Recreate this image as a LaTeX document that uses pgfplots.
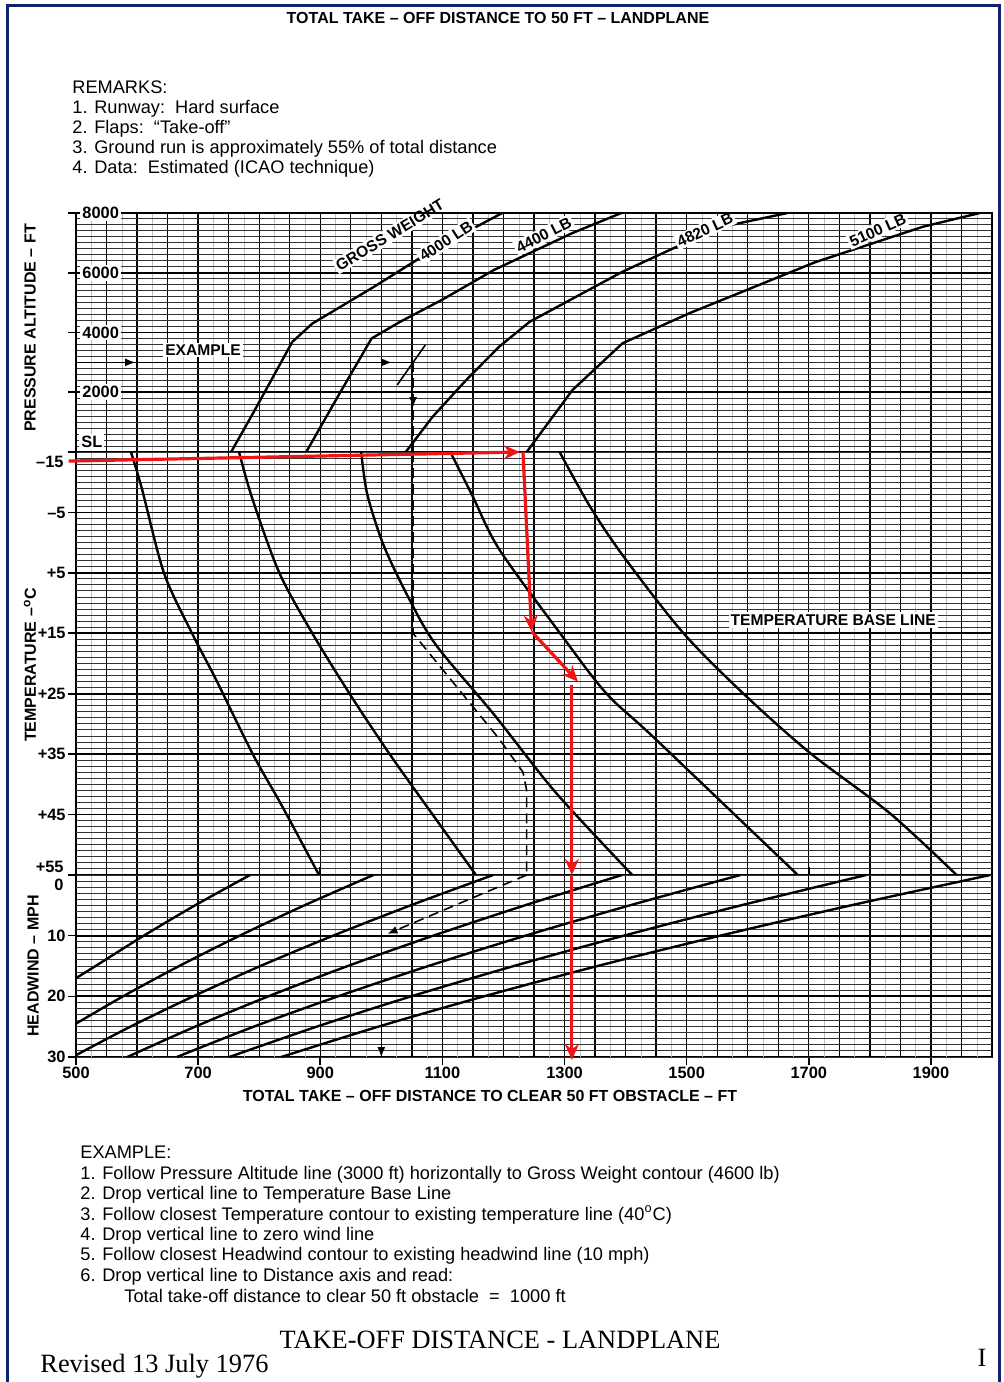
\documentclass[border=0pt]{standalone}
\usepackage{pgfplots}
\pgfplotsset{compat=1.18}
\usepackage{fontspec}
\setmainfont{Liberation Sans}
\newfontfamily\tw{Liberation Serif}
\usetikzlibrary{arrows.meta}
\definecolor{frameblue}{RGB}{16,36,110}
\definecolor{annred}{RGB}{240,20,20}

\newcommand{\vgrid}[2]{%
  \pgfplotsinvokeforeach{525,575,...,1975}{\draw[black!25, line width=0.2pt] (axis cs:##1,#1) -- (axis cs:##1,#2);}%
  \pgfplotsinvokeforeach{550,600,...,1950}{\draw[black, line width=0.65pt] (axis cs:##1,#1) -- (axis cs:##1,#2);}%
}
\newcommand{\hgrid}[2]{%
  \pgfplotsinvokeforeach{#1}{\draw[black!80, line width=0.5pt] (axis cs:500,##1) -- (axis cs:2000,##1);}%
  \pgfplotsinvokeforeach{#2}{\draw[black, line width=0.9pt] (axis cs:500,##1) -- (axis cs:2000,##1);}%
}
\tikzset{
  curve/.style={black, line width=1.2pt},
  lab/.style={font=\bfseries\fontsize{7.8}{9}\selectfont, fill=white, inner sep=1pt},
  ex/.style={black, line width=0.8pt},
  redarr/.style={annred, line width=1.6pt, -{Stealth[length=8pt,width=7pt]}},
}
\pgfplotsset{
  chart/.style={
    scale only axis, width=458pt, xmin=500, xmax=2000,
    axis line style={line width=1.1pt},
    xtick=\empty, ytick pos=left,
    tick align=outside, major tick length=4pt,
    ytick style={black, line width=0.8pt},
    xtick style={black, line width=0.8pt},
    ticklabel style={font=\bfseries\fontsize{8.2}{9}\selectfont, inner sep=1pt},
    /pgf/number format/assume math mode=true,
    clip=false,
  },
}

\begin{document}
\begin{tikzpicture}
\useasboundingbox (0,0) rectangle (501.5pt,-691pt);

% ---------- TOP: pressure altitude ----------
\begin{axis}[chart, axis on top, at={(38pt,-106.5pt)}, anchor=north west, height=119.5pt,
  ymin=0, ymax=8000, ytick={2000,4000,6000,8000}, yticklabels={2000,4000,6000,8000},
  yticklabel style={anchor=west, xshift=6pt, fill=white}]
  \vgrid{0}{8000}
  \hgrid{0,200,...,8000}{2000,4000,6000}
  % gross weight contours
  \addplot[curve] coordinates {(754,0) (790,1300) (825,2600) (854,3680) (887,4300) (920,4700) (988,5530) (1084,6760) (1198,8000)};
  \addplot[curve] coordinates {(877,0) (930,1900) (984,3800) (1030,4350) (1100,5100) (1185,6100) (1313,7330) (1393,8000)};
  \addplot[curve] coordinates {(1040,0) (1084,1180) (1139,2410) (1193,3525) (1243,4360) (1395,6035) (1484,6873) (1559,7541) (1665,8000)};
  \addplot[curve] coordinates {(1238,0) (1313,2075) (1395,3640) (1505,4650) (1710,6350) (1887,7541) (1980,8000)};
  % example
  \addplot[ex] coordinates {(500,3000) (1052,3000)};
  \addplot[ex, -{Latex[length=5pt,width=4pt]}] coordinates {(570,3000) (597,3000)};
  \addplot[ex, -{Latex[length=5pt,width=4pt]}] coordinates {(990,3000) (1017,3000)};
  \addplot[ex] coordinates {(1026,2243) (1072,3582)};
  \addplot[ex, dashed, dash pattern=on 5pt off 3pt] coordinates {(1052,3000) (1052,0)};
  \addplot[ex, -{Latex[length=5pt,width=4pt]}] coordinates {(1052,1900) (1052,1500)};
  % labels
  \node[lab, rotate=31] at (axis cs:1014,7260) {GROSS WEIGHT};
  \node[lab, rotate=33] at (axis cs:1106,7060) {4000 LB};
  \node[lab, rotate=27] at (axis cs:1266,7264) {4400 LB};
  \node[lab, rotate=25] at (axis cs:1530,7431) {4820 LB};
  \node[lab, rotate=24] at (axis cs:1813,7431) {5100 LB};
  \node[lab] at (axis cs:708,3414) {EXAMPLE};
  \node[anchor=south west, font=\bfseries\fontsize{8.2}{9}\selectfont, inner sep=1pt, fill=white] at (axis cs:505,60) {SL};
\end{axis}

% ---------- MIDDLE: temperature ----------
\begin{axis}[chart, at={(38pt,-226pt)}, anchor=north west, height=211.5pt,
  ymin=-15, ymax=55, y dir=reverse,
  ytick={-15,-5,5,15,25,35,45,55}, yticklabels={,–5,+5,+15,+25,+35,+45,}]
  \vgrid{-15}{55}
  \hgrid{-15,-14,...,55}{-5,5,15,25,35,45}
  \addplot[curve, smooth, tension=0.5] coordinates {(590,-15) (608,-8.9) (644,5) (690,15) (729,22.6) (789,34.9) (838,43.7) (898,55)};
  \addplot[curve, smooth, tension=0.5] coordinates {(767,-15) (789,-7.2) (833,5) (887,15) (948,25) (1013,34.9) (1084,45) (1155,55)};
  \addplot[curve, smooth, tension=0.5] coordinates {(967,-15) (977,-8) (1004,0.5) (1046,9.4) (1090,17) (1185,28.5) (1286,41.4) (1411,55)};
  \addplot[curve, smooth, tension=0.5] coordinates {(1113,-15) (1149,-7.8) (1193,1.1) (1292,14.9) (1368,24.9) (1450,32.6) (1682,55)};
  \addplot[curve, smooth, tension=0.5] coordinates {(1292,-15) (1341,-6.1) (1396,2.2) (1494,14.9) (1592,24.9) (1702,34.8) (1833,44.8) (1942,55)};
  % example (dashed)
  \addplot[ex, dashed, dash pattern=on 5pt off 3pt] coordinates {(1052,-15) (1052,15) (1060,16) (1194,32.6) (1232,38) (1238,41) (1238,55)};
  \node[lab] at (axis cs:1740,12.8) {TEMPERATURE BASE LINE};
  \node[anchor=east, font=\bfseries\fontsize{8.2}{9}\selectfont, inner sep=1pt] at (axis cs:500,-15) [xshift=-5pt, yshift=-5pt] {–15};
  \node[anchor=east, font=\bfseries\fontsize{8.2}{9}\selectfont, inner sep=1pt] at (axis cs:500,55) [xshift=-5pt, yshift=4pt] {+55};
  % red annotation
  \addplot[redarr] coordinates {(488,-13.5) (1227,-15)};
  \addplot[redarr] coordinates {(1232,-15) (1246,14.7)};
  \addplot[redarr] coordinates {(1246,14.7) (1322,23)};
  \addplot[redarr] coordinates {(1312,23.6) (1312,55)};
\end{axis}

% ---------- BOTTOM: headwind ----------
\begin{axis}[chart, at={(38pt,-437.5pt)}, anchor=north west, height=91pt,
  ymin=0, ymax=30, y dir=reverse,
  ytick={0,10,20,30}, yticklabels={,10,20,30},
  xtick={500,700,...,1900}, xticklabels={500,700,900,1100,1300,1500,1700,1900}]
  \vgrid{0}{30}
  \hgrid{0,1,...,30}{10,20}
  \addplot[curve, smooth] coordinates {(785,0) (695,5) (611,10) (532,15) (500,17)};
  \addplot[curve, smooth] coordinates {(987,0) (874,5) (768,10) (669,15) (577,20) (500,24.5)};
  \addplot[curve, smooth] coordinates {(1183,0) (1048,5) (921,10) (802,15) (692,20) (589,25) (500,29.7)};
  \addplot[curve, smooth] coordinates {(1394,0) (1235,5) (1085,10) (945,15) (815,20) (695,25) (584,30)};
  \addplot[curve, smooth] coordinates {(1588,0) (1407,5) (1236,10) (1077,15) (929,20) (791,25) (665,30)};
  \addplot[curve, smooth] coordinates {(1794,0) (1589,5) (1397,10) (1217,15) (1049,20) (894,25) (751,30)};
  \addplot[curve, smooth] coordinates {(1997,0) (1769,5) (1555,10) (1354,15) (1168,20) (995,25) (836,30)};
  % example
  \addplot[ex, dashed, dash pattern=on 5pt off 3pt, -{Latex[length=5pt,width=4pt]}] coordinates {(1238,0) (1010,9.7)};
  \addplot[ex, line width=0.6pt, -{Latex[length=5pt,width=4pt]}] coordinates {(1000,10) (1000,30)};
  \node[anchor=east, font=\bfseries\fontsize{8.2}{9}\selectfont, inner sep=1pt] at (axis cs:500,0) [xshift=-5pt, yshift=-5pt] {0};
  \addplot[redarr] coordinates {(1312,0) (1312,30.5)};
\end{axis}

% ---------- frame and texts ----------
\begin{scope}[x=0.5pt, y=-0.5pt]
  \draw[frameblue, line width=1.5pt] (7,1390) -- (7,5) -- (999,5) -- (999,1390);
  \node[font=\bfseries\fontsize{8}{9}\selectfont] at (498,18) {TOTAL TAKE – OFF DISTANCE TO 50 FT – LANDPLANE};
  \begin{scope}[every node/.style={anchor=base west, inner sep=0pt, font=\fontsize{9.1}{10}\selectfont}]
    \node at (72,93) {REMARKS:};
    \node at (72,113) {1. Runway:\ \ Hard surface};
    \node at (72,133) {2. Flaps:\ \ “Take-off”};
    \node at (72,153) {3. Ground run is approximately 55\% of total distance};
    \node at (72,173) {4. Data:\ \ Estimated (ICAO technique)};
    \node at (80,1158) {EXAMPLE:};
    \node at (80,1179) {1. Follow Pressure Altitude line (3000 ft) horizontally to Gross Weight contour (4600 lb)};
    \node at (80,1199) {2. Drop vertical line to Temperature Base Line};
    \node at (80,1220) {3. Follow closest Temperature contour to existing temperature line (40\textsuperscript{o}C)};
    \node at (80,1240) {4. Drop vertical line to zero wind line};
    \node at (80,1260) {5. Follow closest Headwind contour to existing headwind line (10 mph)};
    \node at (80,1281) {6. Drop vertical line to Distance axis and read:};
    \node at (124,1302) {Total take-off distance to clear 50 ft obstacle\ \ =\ \ 1000 ft};
  \end{scope}
  \node[rotate=90, font=\bfseries\fontsize{8}{9}\selectfont] at (30,328) {PRESSURE ALTITUDE – FT};
  \node[rotate=90, font=\bfseries\fontsize{8}{9}\selectfont] at (30,665) {TEMPERATURE –\textsuperscript{o}C};
  \node[rotate=90, font=\bfseries\fontsize{8}{9}\selectfont] at (33,966) {HEADWIND – MPH};
  \node[font=\bfseries\fontsize{8}{9}\selectfont] at (490,1096) {TOTAL TAKE – OFF DISTANCE TO CLEAR 50 FT OBSTACLE – FT};
  \node[font=\tw\fontsize{13.2}{15}\selectfont] at (500,1340) {TAKE-OFF DISTANCE - LANDPLANE};
  \node[anchor=west, font=\tw\fontsize{13.2}{15}\selectfont, inner sep=0pt] at (40,1366) {Revised 13 July 1976};
  \node[font=\tw\fontsize{13.2}{15}\selectfont] at (982,1358) {I};
\end{scope}
\end{tikzpicture}
\end{document}
